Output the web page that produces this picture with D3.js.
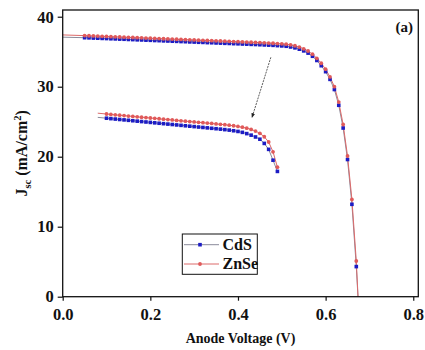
<!DOCTYPE html>
<html>
<head>
<meta charset="utf-8">
<script src="https://cdn.jsdelivr.net/npm/d3@7"></script>
<style>
  html, body { margin: 0; padding: 0; background: #fff; }
  svg { display: block; }
</style>
</head>
<body>
<svg id="chart" width="425" height="350"></svg>
<script>
// J–V curves for two buffer layers (CdS, ZnSe), two device sets each.
// First point of each set only starts the connecting line (no marker).
const voltsUpper = [0.00, 0.05, 0.06, 0.07, 0.08, 0.09, 0.10, 0.11, 0.12, 0.13, 0.14,
  0.15, 0.16, 0.17, 0.18, 0.19, 0.20, 0.21, 0.22, 0.23, 0.24, 0.25, 0.26, 0.27, 0.28,
  0.29, 0.30, 0.31, 0.32, 0.33, 0.34, 0.35, 0.36, 0.37, 0.38, 0.39, 0.40, 0.41, 0.42,
  0.43, 0.44, 0.45, 0.46, 0.47, 0.48, 0.49, 0.50, 0.51, 0.52, 0.53, 0.54, 0.55, 0.56,
  0.57, 0.58, 0.59, 0.60, 0.61, 0.62, 0.63, 0.64, 0.65, 0.66, 0.67, 0.674];

const znseUpper = [37.40, 37.30, 37.28, 37.25, 37.23, 37.20, 37.18, 37.15, 37.13, 37.10, 37.08,
  37.05, 37.03, 37.00, 36.98, 36.95, 36.93, 36.90, 36.88, 36.85, 36.83, 36.80, 36.78, 36.75, 36.73,
  36.70, 36.68, 36.65, 36.63, 36.60, 36.58, 36.55, 36.53, 36.50, 36.48, 36.45, 36.43, 36.40, 36.38,
  36.35, 36.33, 36.30, 36.27, 36.24, 36.21, 36.17, 36.13, 36.08, 35.98, 35.85, 35.66, 35.42, 35.10,
  34.65, 34.05, 33.35, 32.50, 31.40, 30.00, 27.80, 24.60, 20.10, 13.90, 5.10, 0.00];

const cdsUpper = [37.08, 37.00, 36.98, 36.95, 36.93, 36.90, 36.88, 36.85, 36.83, 36.80, 36.78,
  36.75, 36.73, 36.70, 36.68, 36.65, 36.63, 36.60, 36.58, 36.55, 36.53, 36.50, 36.48, 36.45, 36.43,
  36.40, 36.38, 36.35, 36.33, 36.30, 36.28, 36.25, 36.23, 36.20, 36.18, 36.15, 36.13, 36.10, 36.08,
  36.05, 36.03, 36.00, 35.97, 35.94, 35.91, 35.87, 35.83, 35.78, 35.68, 35.55, 35.36, 35.12, 34.80,
  34.35, 33.75, 33.00, 32.15, 31.05, 29.60, 27.35, 24.10, 19.60, 13.20, 4.30, -0.20];

const voltsLower = [0.08, 0.10, 0.11, 0.12, 0.13, 0.14, 0.15, 0.16, 0.17, 0.18, 0.19,
  0.20, 0.21, 0.22, 0.23, 0.24, 0.25, 0.26, 0.27, 0.28, 0.29, 0.30, 0.31, 0.32, 0.33,
  0.34, 0.35, 0.36, 0.37, 0.38, 0.39, 0.40, 0.41, 0.42, 0.43, 0.44, 0.45, 0.46, 0.47,
  0.48, 0.49];

const znseLower = [26.22, 26.10, 26.04, 25.98, 25.93, 25.87, 25.81, 25.76, 25.70, 25.64, 25.59,
  25.53, 25.48, 25.42, 25.36, 25.31, 25.25, 25.19, 25.13, 25.08, 25.02, 24.97, 24.91, 24.86, 24.80,
  24.75, 24.69, 24.63, 24.57, 24.50, 24.42, 24.33, 24.22, 24.08, 23.90, 23.66, 23.34, 22.85, 22.10,
  20.70, 18.50];

const cdsLower = [25.62, 25.50, 25.44, 25.38, 25.32, 25.26, 25.20, 25.14, 25.08, 25.02, 24.96,
  24.90, 24.84, 24.78, 24.72, 24.66, 24.60, 24.54, 24.48, 24.42, 24.36, 24.30, 24.24, 24.18, 24.12,
  24.06, 24.00, 23.94, 23.87, 23.80, 23.71, 23.61, 23.48, 23.30, 23.08, 22.82, 22.50, 21.90, 21.05,
  19.50, 17.90];

const xTicks = [0.0, 0.2, 0.4, 0.6, 0.8];
const yTicks = [0, 10, 20, 30, 40];
const seriesNames = ["CdS", "ZnSe"];

const FONT = '"Liberation Serif", "Times New Roman", serif';

const W = 425, H = 350;
const margin = { left: 62.7, right: 6.7, top: 10, bottom: 53.3 };
const svg = d3.select("#chart");

const x = d3.scaleLinear().domain([0, 0.8115]).range([margin.left, W - margin.right]);
const y = d3.scaleLinear().domain([0, 40.96]).range([H - margin.bottom, margin.top]);

const style = {
  CdS: { line: "#8a8a9a", marker: "#1c1cc4" },
  ZnSe: { line: "#dc6a6a", marker: "#e05a5a" }
};

// bold serif label helper
function label(sel, size) {
  return sel.style("font-family", FONT).style("font-weight", "bold")
    .style("font-size", size + "px").attr("fill", "#111");
}

svg.append("clipPath").attr("id", "plotClip").append("rect")
  .attr("x", margin.left).attr("y", margin.top)
  .attr("width", W - margin.left - margin.right)
  .attr("height", H - margin.top - margin.bottom);

const plot = svg.append("g").attr("clip-path", "url(#plotClip)");

const line = d3.line().x(d => x(d[0])).y(d => y(d[1]));

const sets = [
  { name: "CdS", v: voltsUpper, j: cdsUpper },
  { name: "CdS", v: voltsLower, j: cdsLower },
  { name: "ZnSe", v: voltsUpper, j: znseUpper },
  { name: "ZnSe", v: voltsLower, j: znseLower }
];

// connecting lines
sets.forEach(s => {
  const pts = s.v.map((v, i) => [v, s.j[i]]);
  plot.append("path").datum(pts)
    .attr("d", line)
    .attr("fill", "none")
    .attr("stroke", style[s.name].line)
    .attr("stroke-width", 1);
});

// markers (skip lead-in point; skip trailing axis intercept of upper set)
sets.forEach(s => {
  let pts = s.v.map((v, i) => [v, s.j[i]]).slice(1);
  if (s.v === voltsUpper) pts = pts.slice(0, -1);
  const g = plot.append("g");
  if (s.name === "CdS") {
    g.selectAll("rect").data(pts).enter().append("rect")
      .attr("x", d => x(d[0]) - 1.8).attr("y", d => y(d[1]) - 1.8)
      .attr("width", 3.6).attr("height", 3.6)
      .attr("fill", style.CdS.marker);
  } else {
    g.selectAll("circle").data(pts).enter().append("circle")
      .attr("cx", d => x(d[0])).attr("cy", d => y(d[1]))
      .attr("r", 1.9)
      .attr("fill", style.ZnSe.marker);
  }
});

// axes
const xAxis = d3.axisBottom(x).tickValues(xTicks).tickFormat(d3.format(".1f"))
  .tickSizeInner(4).tickSizeOuter(0).tickPadding(8);
const yAxis = d3.axisLeft(y).tickValues(yTicks).tickFormat(d3.format("d"))
  .tickSizeInner(5).tickSizeOuter(0).tickPadding(4);

const gx = svg.append("g").attr("transform", `translate(0,${H - margin.bottom})`).call(xAxis);
const gy = svg.append("g").attr("transform", `translate(${margin.left},0)`).call(yAxis);
[gx, gy].forEach(g => {
  g.select(".domain").remove();
  g.selectAll(".tick line").attr("stroke", "#111").attr("stroke-width", 1.2);
  label(g.selectAll(".tick text"), 16.5);
});

// frame
svg.append("rect")
  .attr("x", margin.left).attr("y", margin.top)
  .attr("width", W - margin.left - margin.right)
  .attr("height", H - margin.top - margin.bottom)
  .attr("fill", "none").attr("stroke", "#111").attr("stroke-width", 1.3);

// axis titles
label(svg.append("text"), 14)
  .attr("x", (margin.left + W - margin.right) / 2).attr("y", 343)
  .attr("text-anchor", "middle")
  .text("Anode Voltage (V)");

const yt = label(svg.append("text"), 16)
  .attr("transform", `translate(27,${(margin.top + H - margin.bottom) / 2}) rotate(-90)`)
  .attr("text-anchor", "middle");
yt.append("tspan").text("J");
yt.append("tspan").attr("dy", 4).style("font-size", "10.5px").text("sc");
yt.append("tspan").attr("dy", -4).text(" (mA/cm");
yt.append("tspan").attr("dy", -6).style("font-size", "10.5px").text("2");
yt.append("tspan").attr("dy", 6).text(")");

// panel label
label(svg.append("text"), 15).attr("x", 413).attr("y", 32).attr("text-anchor", "end")
  .text("(a)");

// arrow from upper set towards lower set
const defs = svg.append("defs");
defs.append("marker").attr("id", "arrowHead")
  .attr("viewBox", "0 0 10 10").attr("refX", 9).attr("refY", 5)
  .attr("markerWidth", 6).attr("markerHeight", 6).attr("orient", "auto")
  .append("path").attr("d", "M0,1 L10,5 L0,9 Z").attr("fill", "#222");
svg.append("line")
  .attr("x1", x(0.475)).attr("y1", y(34.2))
  .attr("x2", x(0.432)).attr("y2", y(25.6))
  .attr("stroke", "#333").attr("stroke-width", 0.8)
  .attr("stroke-dasharray", "2,1")
  .attr("marker-end", "url(#arrowHead)");

// legend
const lg = svg.append("g");
lg.append("rect").attr("x", 182.3).attr("y", 234).attr("width", 75).attr("height", 40.3)
  .attr("fill", "#fff").attr("stroke", "#111").attr("stroke-width", 1);
seriesNames.forEach((name, i) => {
  const cy = 244.7 + i * 19.3;
  lg.append("line").attr("x1", 184).attr("x2", 219).attr("y1", cy).attr("y2", cy)
    .attr("stroke", style[name].line).attr("stroke-width", 1);
  if (name === "CdS") {
    lg.append("rect").attr("x", 200 - 1.8).attr("y", cy - 1.8).attr("width", 3.6).attr("height", 3.6)
      .attr("fill", style.CdS.marker);
  } else {
    lg.append("circle").attr("cx", 200).attr("cy", cy).attr("r", 1.9).attr("fill", style.ZnSe.marker);
  }
  label(lg.append("text"), 16).attr("x", 222.5).attr("y", cy + 5).text(name);
});
</script>
</body>
</html>
